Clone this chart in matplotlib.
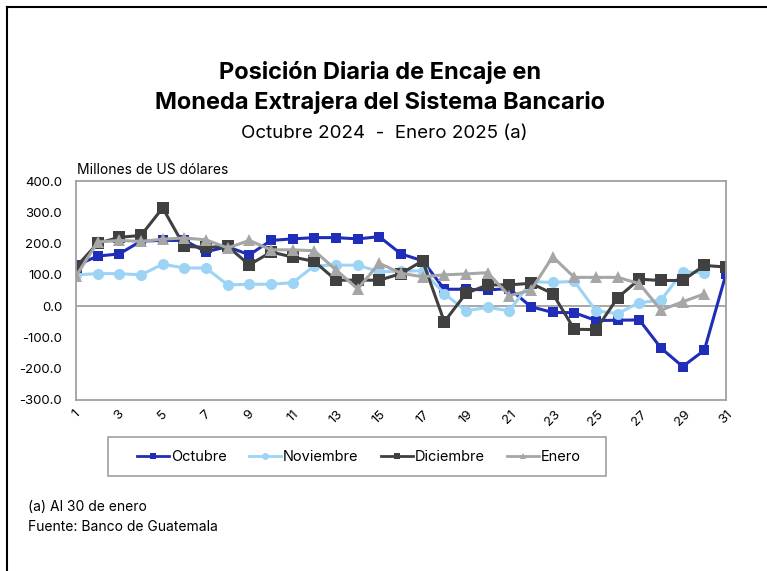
import matplotlib
matplotlib.use("Agg")
import matplotlib.pyplot as plt
from matplotlib.lines import Line2D
from matplotlib.patches import Rectangle

plt.rcParams['font.family'] = ['Inter', 'DejaVu Sans']

days = list(range(1, 32))
octubre = [130, 160, 167, 208, 210, 210, 174, 190, 164, 210, 215, 219, 219, 215, 222,
           167, 145, 54, 54, 52, 56, -2, -20, -21, -46, -45, -44, -134, -193, -141, 103]
noviembre = [100, 104, 104, 100, 134, 122, 122, 68, 70, 70, 75, 129, 131, 131, 110,
             112, 113, 40, -15, -4, -15, 78, 76, 79, -15, -24, 11, 19, 110, 107]
diciembre = [125, 201, 220, 226, 314, 191, 188, 191, 132, 173, 157, 143, 83, 83, 83,
             104, 145, -50, 41, 68, 68, 73, 40, -74, -75, 27, 86, 82, 82, 130, 125]
enero = [96, 205, 210, 207, 214, 218, 212, 186, 210, 180, 180, 177, 116, 55, 137,
         105, 94, 100, 103, 107, 33, 51, 158, 92, 92, 92, 72, -13, 14, 39]

series = [
    ("Octubre", octubre, "#1F2DB8", "s", 7),
    ("Noviembre", noviembre, "#9DD3F5", "o", 8),
    ("Diciembre", diciembre, "#404040", "s", 8),
    ("Enero", enero, "#A6A6A6", "^", 8),
]

W, H = 767, 571
fig = plt.figure(figsize=(W / 100, H / 100), dpi=100)
ax = fig.add_axes([76 / W, 1 - 400 / H, 650 / W, 219 / H])

for name, vals, col, mk, ms in series:
    ax.plot(days[:len(vals)], vals, color=col, lw=2.2, marker=mk, markersize=ms,
            markeredgewidth=0, label=name)

ax.set_xlim(1, 31)
ax.set_ylim(-300, 400)
ax.set_yticks(range(-300, 401, 100))
ax.set_yticklabels([f"{v:.1f}" for v in range(-300, 401, 100)], fontsize=9.5)
ax.set_xticks(range(1, 32, 2))
ax.set_xticklabels([str(d) for d in range(1, 32, 2)], fontsize=9.5, rotation=45,
                   ha='center', va='top')
ax.tick_params(length=0)
ax.tick_params(axis='y', pad=10)
ax.tick_params(axis='x', pad=6)
for s in ax.spines.values():
    s.set_color('#A0A0A0')
    s.set_linewidth(1.3)
ax.axhline(0, color='#A0A0A0', lw=1.3, zorder=0)

fig.text(77 / W, 1 - 170 / H, "Millones de US dólares", fontsize=10, ha='left', va='center')

fig.text(380 / W, 1 - 72 / H, "Posición Diaria de Encaje en", fontsize=17,
         fontweight='bold', ha='center', va='center')
fig.text(380 / W, 1 - 102 / H, "Moneda Extrajera del Sistema Bancario", fontsize=17,
         fontweight='bold', ha='center', va='center')
fig.text(384 / W, 1 - 134 / H, "Octubre 2024  -  Enero 2025 (a)", fontsize=13.5,
         ha='center', va='center')

handles = [Line2D([], [], color=c, lw=2, marker=m, markersize=5, markeredgewidth=0)
           for _, _, c, m, _ in series]
leg = fig.legend(handles, [s[0] for s in series], loc='center',
                 bbox_to_anchor=(359 / W, 1 - 457 / H), ncol=4, fontsize=10.5,
                 frameon=False, handlelength=2.2, handletextpad=0.15,
                 columnspacing=1.5)
fig.add_artist(Rectangle((108 / W, 1 - 476 / H), 498 / W, 39 / H, transform=fig.transFigure,
                         fill=False, edgecolor='#A0A0A0', lw=1.2))

fig.text(28 / W, 1 - 507 / H, "(a) Al 30 de enero", fontsize=10, ha='left', va='center')
fig.text(28 / W, 1 - 527 / H, "Fuente: Banco de Guatemala", fontsize=10, ha='left', va='center')

fig.add_artist(Line2D([6.5 / W, 6.5 / W], [0, 1 - 6.5 / H], color='black', lw=1.5,
                      transform=fig.transFigure))
fig.add_artist(Line2D([6.5 / W, 1], [1 - 6.5 / H, 1 - 6.5 / H], color='black', lw=1.5,
                      transform=fig.transFigure))

fig.savefig("out.png", dpi=100)
